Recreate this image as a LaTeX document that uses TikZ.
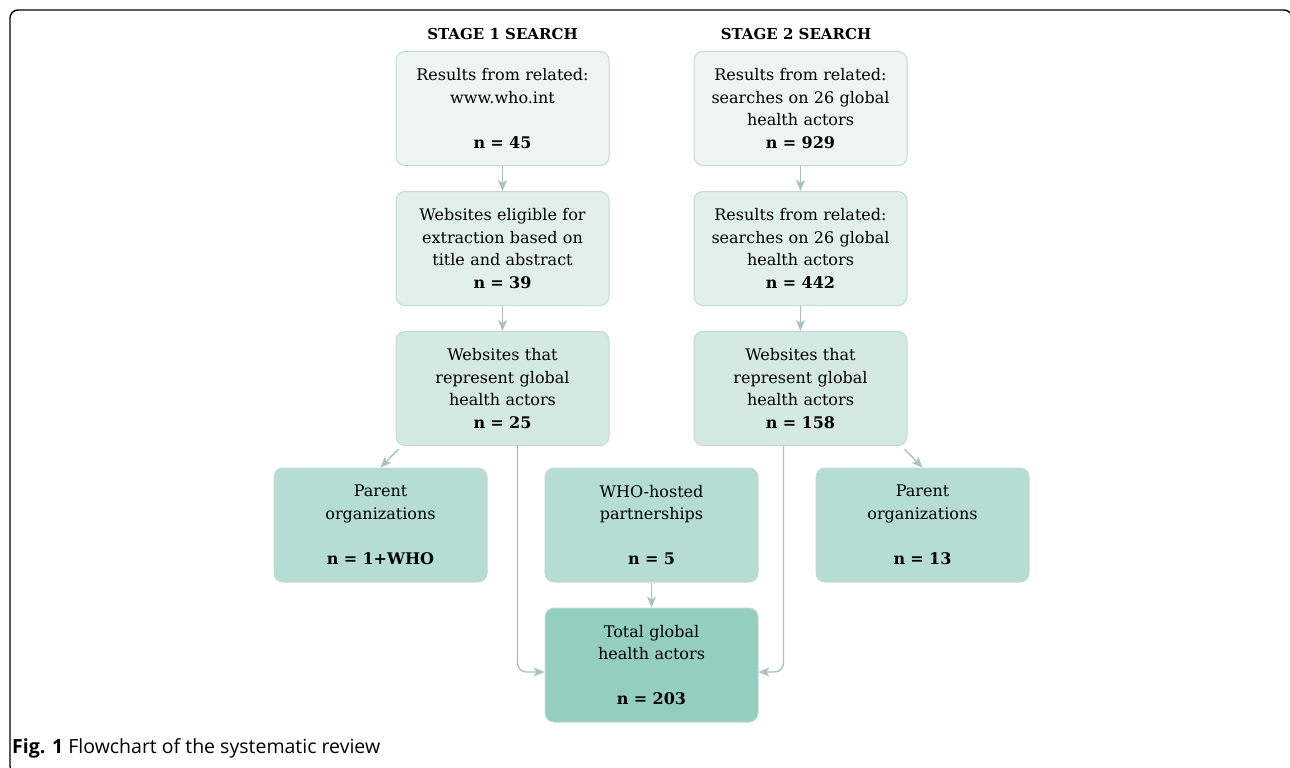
\documentclass[tikz,border=0pt]{standalone}
\usepackage{fontspec}
\setmainfont{DejaVu Serif}
\setsansfont{Open Sans}
\usetikzlibrary{positioning,arrows.meta}
\definecolor{rowa}{RGB}{238,245,242}
\definecolor{rowb}{RGB}{225,240,235}
\definecolor{rowc}{RGB}{211,233,226}
\definecolor{rowd}{RGB}{181,221,211}
\definecolor{rowe}{RGB}{147,206,193}
\definecolor{edge}{RGB}{196,217,211}
\definecolor{linkgray}{RGB}{172,192,192}
\begin{document}
\begin{tikzpicture}[
  x=1pt, y=-1pt,
  node distance=25pt,
  box/.style={rectangle, rounded corners=9pt, draw=edge, line width=1pt, fill=rowa, minimum width=213pt, minimum height=114pt, text width=205pt, align=center, font=\fontsize{16}{22.5}\selectfont},
  head/.style={font=\fontsize{15}{18}\selectfont\bfseries},
  arrow/.style={-{Stealth[length=11pt,width=9pt,inset=3pt]}, line width=1.4pt, draw=linkgray}
]
  \useasboundingbox (0,0) rectangle (1290,768);
  \draw[line width=1.4pt, rounded corners=8pt] (10,10) rectangle (1292,774);

  % Stage 1 (left column)
  \node[head] (headA) at (502.5,34) {STAGE 1 SEARCH};
  \node[box] (who45) at (502.5,108.5) {Results from related:\\www.who.int\\[22.5pt]\textbf{n = 45}};
  \node[box, below=of who45, fill=rowb] (elig39) {Websites eligible for\\extraction based on\\title and abstract\\\textbf{n = 39}};
  \node[box, below=of elig39, fill=rowc] (web25) {Websites that\\represent global\\health actors\\\textbf{n = 25}};

  % Stage 2 (right column)
  \node[head] (headB) at (796,34) {STAGE 2 SEARCH};
  \node[box] (res929) at (800.5,108.5) {Results from related:\\searches on 26 global\\health actors\\\textbf{n = 929}};
  \node[box, below=of res929, fill=rowb] (res442) {Results from related:\\searches on 26 global\\health actors\\\textbf{n = 442}};
  \node[box, below=of res442, fill=rowc] (web158) {Websites that\\represent global\\health actors\\\textbf{n = 158}};

  % Outcomes
  \node[box, fill=rowd] (parentA) at (380.5,525) {Parent\\organizations\\[22.5pt]\textbf{n = 1+WHO}};
  \node[box, fill=rowd] (hosted) at (651.5,525) {WHO-hosted\\partnerships\\[22.5pt]\textbf{n = 5}};
  \node[box, fill=rowd] (parentB) at (922.5,525) {Parent\\organizations\\[22.5pt]\textbf{n = 13}};
  \node[box, below=of hosted, fill=rowe] (total) {Total global\\health actors\\[22.5pt]\textbf{n = 203}};

  % Caption
  \node[anchor=west, inner sep=0pt, font=\fontsize{19.5}{22}\selectfont\sffamily] (caption) at (12,748) {\textbf{Fig. 1} Flowchart of the systematic review};

  % Arrows
  \draw[arrow] (who45) -- (elig39);
  \draw[arrow] (elig39) -- (web25);
  \draw[arrow] (res929) -- (res442);
  \draw[arrow] (res442) -- (web158);
  \draw[arrow] ([xshift=3pt,yshift=-3pt]web25.south west) -- (parentA.north);
  \draw[arrow] ([xshift=-3pt,yshift=-3pt]web158.south east) -- (parentB.north);
  \draw[arrow] (hosted) -- (total);
  \draw[arrow, rounded corners=9pt] ([xshift=15pt]web25.south) |- ([yshift=-7pt]total.west);
  \draw[arrow, rounded corners=9pt] ([xshift=-17pt]web158.south) |- ([yshift=-7pt]total.east);

\end{tikzpicture}
\end{document}
